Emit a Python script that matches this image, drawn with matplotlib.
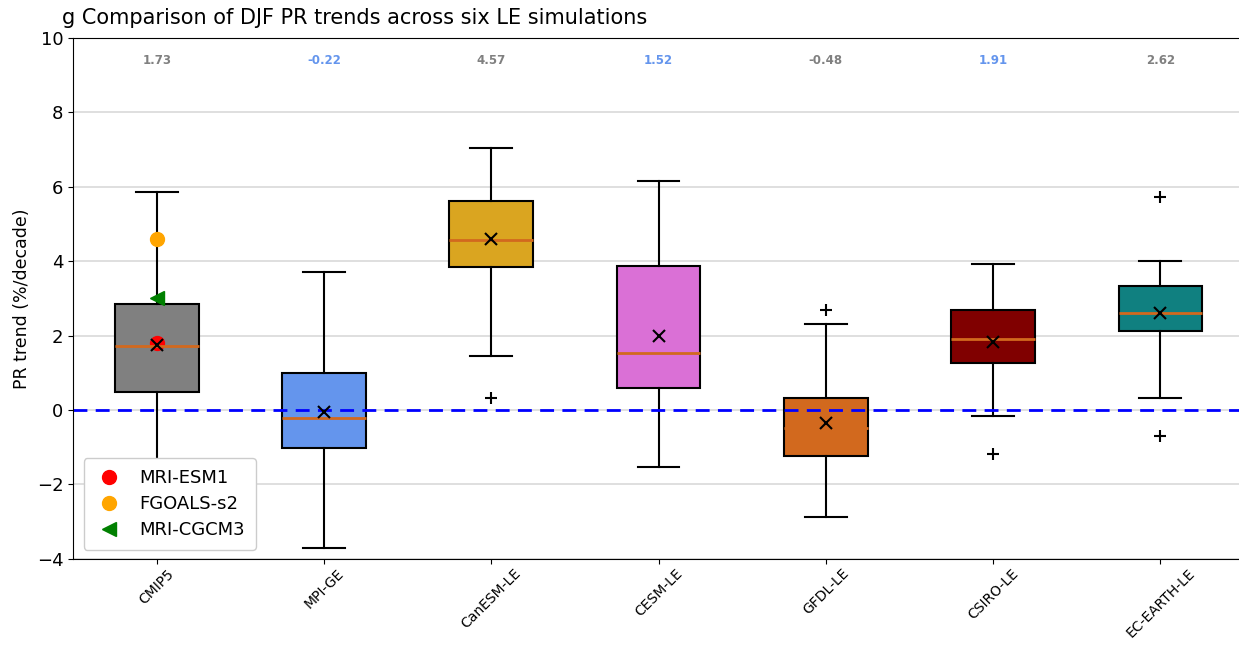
import matplotlib
matplotlib.use("Agg")
import matplotlib.pyplot as plt

# data
models = ["CMIP5", "MPI-GE", "CanESM-LE", "CESM-LE", "GFDL-LE", "CSIRO-LE", "EC-EARTH-LE"]
whislo = [-2.9, -3.72, 1.45, -1.53, -2.88, -0.16, 0.32]
q1 = [0.48, -1.03, 3.85, 0.58, -1.24, 1.27, 2.13]
med = [1.73, -0.22, 4.57, 1.52, -0.48, 1.91, 2.62]
q3 = [2.85, 1.00, 5.62, 3.87, 0.32, 2.69, 3.34]
whishi = [5.86, 3.70, 7.05, 6.15, 2.31, 3.93, 4.00]
means = [1.75, -0.05, 4.60, 1.98, -0.35, 1.84, 2.60]
fliers = [[], [], [0.32], [], [2.69], [-1.18], [5.72, -0.70]]
colors = ["#808080", "#6495ED", "#DAA520", "#DA70D6", "#D2691E", "#800000", "#108080"]
label_colors = ["#808080", "#6495ED"] * 4

# individual CMIP5 models
single_names = ["MRI-ESM1", "FGOALS-s2", "MRI-CGCM3"]
single_vals = [1.80, 4.60, 3.00]
single_style = [("o", "red"), ("o", "orange"), ("<", "green")]

stats = []
for i, m in enumerate(models):
    stats.append({"label": m, "whislo": whislo[i], "q1": q1[i], "med": med[i],
                  "q3": q3[i], "whishi": whishi[i], "mean": means[i], "fliers": fliers[i]})

fig = plt.figure(figsize=(12.39, 6.46), dpi=100)
ax = fig.add_axes([0.059, 0.135, 0.945, 0.806])

ax.grid(True, axis="y", color="#d9d9d9", linewidth=1.2)
ax.set_axisbelow(True)

bp = ax.bxp(stats, positions=range(1, 8), widths=0.5, patch_artist=True, showmeans=True,
            boxprops=dict(linewidth=1.5, edgecolor="black"),
            whiskerprops=dict(linewidth=1.5),
            capprops=dict(linewidth=1.5),
            medianprops=dict(color="#D2691E", linewidth=2),
            meanprops=dict(marker="x", markeredgecolor="black", markersize=9, markeredgewidth=1.5),
            flierprops=dict(marker="+", markeredgecolor="black", markersize=9, markeredgewidth=1.5))
for patch, c in zip(bp["boxes"], colors):
    patch.set_facecolor(c)

ax.axhline(0, color="blue", linestyle="--", linewidth=2, dashes=(5, 3))

for name, v, (mk, c) in zip(single_names, single_vals, single_style):
    ax.plot(1, v, marker=mk, color=c, markersize=10, linestyle="none", label=name)

for i, m in enumerate(med):
    ax.text(i + 1, 9.4, f"{m:.2f}", ha="center", va="center", fontsize=8.5,
            fontweight="bold", color=label_colors[i])

ax.set_xlim(0.5, 7.5)
ax.set_ylim(-4, 10)
ax.set_yticks([-4, -2, 0, 2, 4, 6, 8, 10])
ax.tick_params(axis="y", labelsize=13)
ax.tick_params(axis="x", pad=2)
ax.set_xticks(range(1, 8))
ax.set_xticklabels(models, rotation=45, fontsize=10)
ax.set_ylabel("PR trend (%/decade)", fontsize=12.5)
ax.spines["right"].set_visible(False)

leg = ax.legend(loc="lower left", bbox_to_anchor=(0.009, 0.017), borderaxespad=0, fontsize=13,
                borderpad=0.6, handletextpad=0.9, handlelength=1.6, labelspacing=0.45, framealpha=1)
leg.set_zorder(10)

fig.text(0.050, 0.972, "g Comparison of DJF PR trends across six LE simulations", fontsize=15,
         ha="left", va="center")

fig.savefig("out.png", dpi=100)
